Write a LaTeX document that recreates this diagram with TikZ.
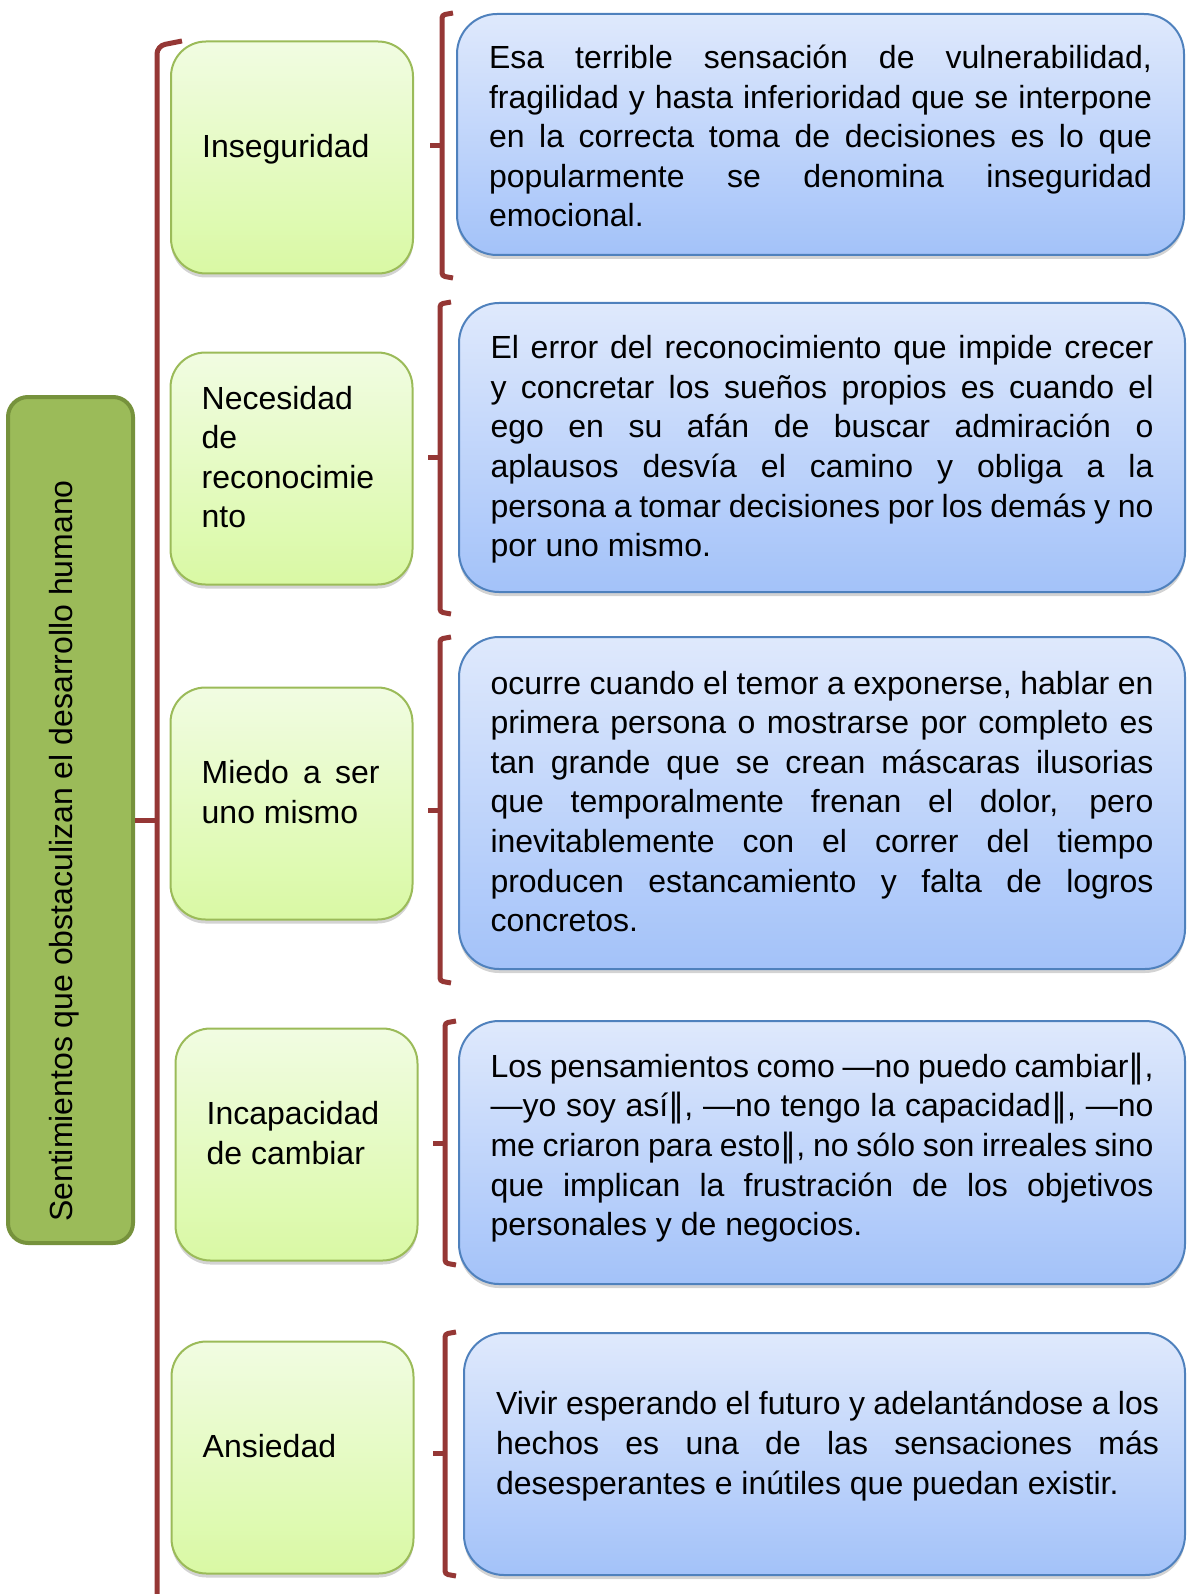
\documentclass[tikz,border=0pt]{standalone}
\usepackage{fontspec}
\setmainfont{Liberation Sans}
\newfontfamily\simbolos{DejaVu Sans}
\usetikzlibrary{shadows}

\definecolor{verdeclaro}{RGB}{241,252,226}
\definecolor{verdefondo}{RGB}{217,249,164}
\definecolor{verdeborde}{RGB}{155,187,89}
\definecolor{verdetema}{RGB}{155,187,89}
\definecolor{verdeoscuro}{RGB}{118,146,60}
\definecolor{azulclaro}{RGB}{223,233,252}
\definecolor{azulfondo}{RGB}{163,194,249}
\definecolor{azulborde}{RGB}{79,129,189}
\definecolor{granate}{RGB}{149,55,53}

\hyphenpenalty=10000
\exhyphenpenalty=10000
\newcommand\dbarra{{\simbolos ‖}}

\begin{document}
\begin{tikzpicture}[x=1pt,y=-1pt,font=\fontsize{32}{39.6}\selectfont]
    \tikzstyle{sombra}=[drop shadow={shadow xshift=0pt,shadow yshift=-4pt,opacity=0.35}]
    \tikzstyle{caja verde}=[rectangle,rounded corners=35pt,draw=verdeborde,line width=2pt,
        top color=verdeclaro,bottom color=verdefondo,minimum width=242pt,minimum height=232pt,sombra]
    \tikzstyle{caja azul}=[rectangle,rounded corners=40pt,draw=azulborde,line width=2pt,
        top color=azulclaro,bottom color=azulfondo,minimum width=726pt,sombra]
    \tikzstyle{texto verde}=[anchor=west,inner sep=0pt,text width=178pt,align=justify]
    \tikzstyle{texto azul}=[inner sep=0pt,text width=663pt,align=justify]
    \tikzstyle{llave}=[draw=granate,line width=5pt,rounded corners=3pt]

    \useasboundingbox (0,0) rectangle (1187,1594);

    % Tema principal
    \node[rectangle,rounded corners=20pt,fill=verdetema,draw=verdeoscuro,line width=4pt,
        minimum width=125pt,minimum height=846pt] (tema) at (70.5,820) {};
    \node[rotate=90,inner sep=0pt] (titulo) at (64,851)
        {Sentimientos que obstaculizan el desarrollo humano};

    % Cajas verdes
    \node[caja verde] (g1) at (292,157.5) {};
    \node[caja verde] (g2) at (291.5,468.5) {};
    \node[caja verde] (g3) at (291.5,803.5) {};
    \node[caja verde] (g4) at (296.5,1144.5) {};
    \node[caja verde] (g5) at (292.5,1457.5) {};

    \node[texto verde] (t1) at ([xshift=32pt,yshift=8.5pt]g1.west) {Inseguridad};
    \node[texto verde] (t2) at ([xshift=32pt,yshift=11.5pt]g2.west)
        {Necesidad\linebreak de\linebreak reconocimie\linebreak nto};
    \node[texto verde] (t3) at ([xshift=32pt,yshift=11.5pt]g3.west) {Miedo a ser\linebreak uno mismo};
    \node[texto verde] (t4) at ([xshift=32pt,yshift=11.5pt]g4.west) {Incapacidad\linebreak de cambiar};
    \node[texto verde] (t5) at ([xshift=32pt,yshift=11.5pt]g5.west) {Ansiedad};

    % Cajas azules
    \node[caja azul,minimum width=727pt,minimum height=241pt] (b1) at (820.5,134.5) {};
    \node[caja azul,minimum height=289pt] (b2) at (822,447.5) {};
    \node[caja azul,minimum height=332pt] (b3) at (822,803) {};
    \node[caja azul,minimum height=263pt] (b4) at (822,1152.5) {};
    \node[caja azul,minimum width=721pt,minimum height=242pt] (b5) at (824.5,1454) {};

    \node[texto azul] (d1) at ([yshift=-1.5pt]b1.center)
        {Esa terrible sensación de vulnerabilidad,\linebreak fragilidad y hasta inferioridad que se interpone\linebreak
         en la correcta toma de decisiones es lo que\linebreak popularmente se denomina inseguridad\linebreak emocional.};
    \node[texto azul] (d2) at ([yshift=-2pt]b2.center)
        {El error del reconocimiento que impide crecer\linebreak y concretar los sueños propios es cuando el\linebreak
         ego en su afán de buscar admiración o\linebreak aplausos desvía el camino y obliga a la\linebreak
         persona a tomar decisiones por los demás y no\linebreak por uno mismo.};
    \node[texto azul] (d3) at ([yshift=1.6pt]b3.center)
        {ocurre cuando el temor a exponerse, hablar en\linebreak primera persona o mostrarse por completo es\linebreak
         tan grande que se crean máscaras ilusorias\linebreak que temporalmente frenan el dolor, pero\linebreak
         inevitablemente con el correr del tiempo\linebreak producen estancamiento y falta de logros\linebreak concretos.};
    \node[texto azul] (d4) at ([yshift=5pt]b4.center)
        {Los pensamientos como —no puedo cambiar\dbarra,\linebreak —yo soy así\dbarra, —no tengo la capacidad\dbarra, —no\linebreak
         me criaron para esto\dbarra, no sólo son irreales sino\linebreak que implican la frustración de los objetivos\linebreak
         personales y de negocios.};
    \node[texto azul] (d5) at ([xshift=3pt,yshift=8pt]b5.center)
        {Vivir esperando el futuro y adelantándose a los\linebreak hechos es una de las sensaciones más\linebreak
         desesperantes e inútiles que puedan existir.};

    % Llave principal
    \draw[llave,rounded corners=8pt] (182,41) -- (157,46) -- (157,1600);
    \draw[llave] (tema.east) -- (157,820);

    % Llaves de cada fila
    \foreach \xa/\ya/\yb/\ym in {442/13/278/146, 440/302/614/457, 440/637/983/810,
                                 445/1021/1265/1143, 445/1332/1576/1453}
    {
        \draw[llave] (\xa+11,\ya) -- (\xa,\ya+2) -- (\xa,\yb-2) -- (\xa+11,\yb);
        \draw[llave] (\xa,\ym) -- (\xa-12,\ym);
    }
\end{tikzpicture}
\end{document}
